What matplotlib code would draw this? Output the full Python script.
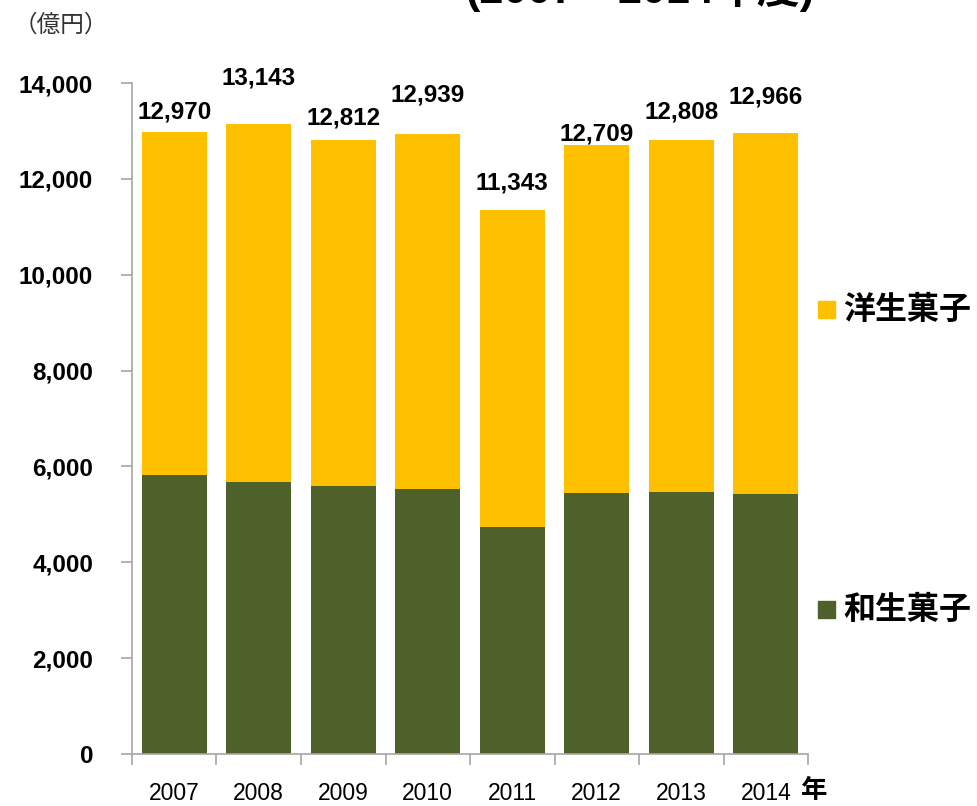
import matplotlib
matplotlib.use("Agg")
import matplotlib.pyplot as plt
import numpy as np
from matplotlib.patches import Rectangle

plt.rcParams['font.family'] = ['Liberation Sans', 'Noto Sans CJK JP', 'DejaVu Sans']

years = ['2007', '2008', '2009', '2010', '2011', '2012', '2013', '2014']
totals = [12970, 13143, 12812, 12939, 11343, 12709, 12808, 12966]
wagashi = [5820, 5675, 5590, 5530, 4735, 5445, 5465, 5425]
yogashi = [t - w for t, w in zip(totals, wagashi)]
series_names = ['洋生菓子', '和生菓子']
yticks = [0, 2000, 4000, 6000, 8000, 10000, 12000, 14000]

# label offsets above bar tops, in pixels (layout only)
label_off_px = [20, 46, 22, 39, 27, 11, 28, 36]

green = '#4f612b'
yellow = '#ffc000'
gray = '#a6a6a6'

fig = plt.figure(figsize=(9.78, 8.06), dpi=100)
ax = fig.add_axes([132/978, 52/806, 676/978, 671/806])

x = np.arange(len(years))
ax.bar(x, wagashi, width=0.77, color=green, zorder=2)
ax.bar(x, yogashi, bottom=wagashi, width=0.77, color=yellow, zorder=2)

for i, t in enumerate(totals):
    ax.annotate(f'{t:,}', (x[i], t), xytext=(0, label_off_px[i] * 0.72),
                textcoords='offset points', ha='center', va='center',
                fontsize=17.5, fontweight='bold', color='black', zorder=3)

ax.set_xlim(-0.5, len(years) - 0.5)
ax.set_ylim(0, 14000)
ax.set_yticks(yticks)
ax.set_yticklabels([f'{v:,}' for v in yticks], fontsize=17.5, fontweight='bold')
ax.set_xticks(x)
ax.set_xticklabels(years, fontsize=16.5)
ax.set_xticks(np.arange(-0.5, len(years)), minor=True)
ax.tick_params(axis='x', which='major', length=0, pad=20)
ax.tick_params(axis='x', which='minor', length=8, color=gray, width=1.2)
ax.tick_params(axis='y', length=8, color=gray, width=1.2, pad=20)

for s in ['top', 'right']:
    ax.spines[s].set_visible(False)
for s in ['left', 'bottom']:
    ax.spines[s].set_color(gray)
    ax.spines[s].set_linewidth(1.2)

# year unit
fig.text(801/978, 1 - 791/806, '年', fontsize=19, fontweight='bold', va='center', ha='left',
         family=['Noto Sans CJK JP'])
# unit label
fig.text(14/978, 1 - 25/806, '（億円）', fontsize=17, va='center', ha='left',
         family=['Noto Sans CJK JP'], color='#333333')
# cropped title
fig.text(640/978, 1 - 3/806, '(2007～2014年度)', fontsize=31, fontweight='bold',
         va='baseline', ha='center', family=['Liberation Sans', 'Noto Sans CJK JP'])

# legend
for name, col, yc in [(series_names[0], yellow, 310), (series_names[1], green, 610)]:
    fig.patches.append(Rectangle((818/978, 1 - (yc + 8)/806), 17/978, 17/806,
                                 transform=fig.transFigure, color=col, figure=fig))
    fig.text(843/978, 1 - yc/806, name, fontsize=23, fontweight='bold', va='center',
             ha='left', family=['Noto Sans CJK JP'])

fig.savefig('out.png', dpi=100)
